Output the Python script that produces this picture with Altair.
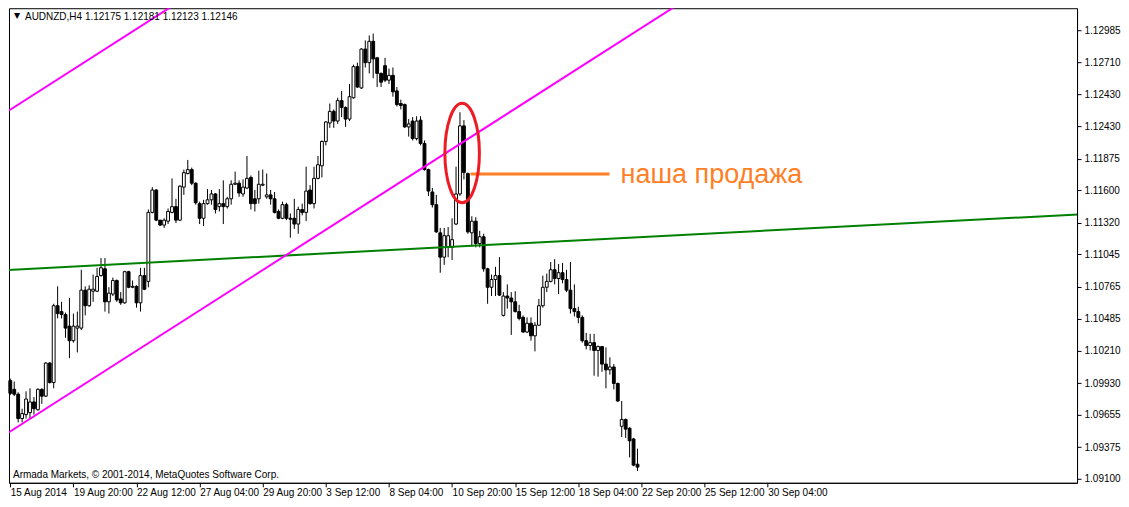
import json
import altair as alt
import pandas as pd

# ---------------- data (AUDNZD, H4) ----------------
opens = [1.09951, 1.09875, 1.09833, 1.09622, 1.09656, 1.09673, 1.09766, 1.09698, 1.09875, 1.09816,
         1.10103, 1.09934, 1.10600, 1.10549, 1.10524, 1.10423, 1.10297, 1.10406, 1.10406, 1.10735,
         1.10600, 1.10726, 1.10726, 1.10861, 1.10920, 1.10634, 1.10701, 1.10819, 1.10659, 1.10625,
         1.10895, 1.10760, 1.10768, 1.10625, 1.10861, 1.10811, 1.11409, 1.11603, 1.11342, 1.11299,
         1.11333, 1.11409, 1.11459, 1.11342, 1.11628, 1.11746, 1.11780, 1.11662, 1.11485, 1.11358,
         1.11485, 1.11518, 1.11569, 1.11459, 1.11485, 1.11459, 1.11527, 1.11653, 1.11662, 1.11569,
         1.11620, 1.11712, 1.11527, 1.11527, 1.11645, 1.11544, 1.11561, 1.11527, 1.11417, 1.11358,
         1.11476, 1.11358, 1.11358, 1.11308, 1.11434, 1.11409, 1.11603, 1.11485, 1.11704, 1.11813,
         1.12024, 1.12184, 1.12285, 1.12201, 1.12378, 1.12319, 1.12218, 1.12403, 1.12673, 1.12488,
         1.12825, 1.12707, 1.12892, 1.12749, 1.12614, 1.12681, 1.12555, 1.12597, 1.12462, 1.12353,
         1.12344, 1.12150, 1.12201, 1.12049, 1.12209, 1.12007, 1.11780, 1.11586, 1.11476, 1.11232,
         1.11021, 1.11106, 1.11106, 1.11308, 1.11569, 1.12159, 1.11746, 1.11232, 1.11333, 1.11139,
         1.11198, 1.10920, 1.10760, 1.10827, 1.10861, 1.10516, 1.10684, 1.10667, 1.10634, 1.10549,
         1.10499, 1.10372, 1.10448, 1.10339, 1.10431, 1.10600, 1.10760, 1.10811, 1.10912, 1.10836,
         1.10886, 1.10827, 1.10735, 1.10575, 1.10549, 1.10499, 1.10297, 1.10255, 1.10280, 1.10212,
         1.10246, 1.10094, 1.10044, 1.10069, 1.09926, 1.09555, 1.09614, 1.09538, 1.09445, 1.09226]
highs = [1.09968, 1.09943, 1.09850, 1.09707, 1.09858, 1.09884, 1.09808, 1.09884, 1.09884, 1.10111,
         1.10111, 1.10617, 1.10768, 1.10634, 1.10541, 1.10667, 1.10532, 1.10549, 1.10912, 1.10768,
         1.10777, 1.10870, 1.10929, 1.11013, 1.11013, 1.10760, 1.10844, 1.10827, 1.10718, 1.10903,
         1.10903, 1.10819, 1.10777, 1.10929, 1.10929, 1.11434, 1.11628, 1.11611, 1.11342, 1.11358,
         1.11443, 1.11704, 1.11527, 1.11645, 1.11780, 1.11864, 1.11797, 1.11670, 1.11502, 1.11518,
         1.11611, 1.11603, 1.11577, 1.11611, 1.11687, 1.11544, 1.11687, 1.11763, 1.11687, 1.11695,
         1.11898, 1.11729, 1.11603, 1.11771, 1.11780, 1.11746, 1.11603, 1.11586, 1.11434, 1.11502,
         1.11493, 1.11400, 1.11527, 1.11459, 1.11485, 1.11805, 1.11645, 1.11805, 1.11898, 1.12033,
         1.12201, 1.12353, 1.12302, 1.12403, 1.12462, 1.12327, 1.12521, 1.12690, 1.12707, 1.12833,
         1.12900, 1.12943, 1.12959, 1.12757, 1.12622, 1.12749, 1.12656, 1.12665, 1.12496, 1.12386,
         1.12353, 1.12218, 1.12235, 1.12243, 1.12243, 1.12033, 1.11788, 1.11620, 1.11561, 1.11274,
         1.11274, 1.11282, 1.11358, 1.11805, 1.12277, 1.12209, 1.11754, 1.11375, 1.11367, 1.11249,
         1.11224, 1.10929, 1.10870, 1.10937, 1.11021, 1.10718, 1.10785, 1.10718, 1.10726, 1.10608,
         1.10516, 1.10499, 1.10499, 1.10457, 1.10659, 1.10861, 1.10878, 1.10979, 1.11004, 1.10962,
         1.10971, 1.10912, 1.10979, 1.10785, 1.10591, 1.10516, 1.10364, 1.10356, 1.10356, 1.10255,
         1.10246, 1.10238, 1.10153, 1.10094, 1.09934, 1.09774, 1.09622, 1.09547, 1.09454, 1.09361]
lows = [1.09825, 1.09816, 1.09589, 1.09589, 1.09622, 1.09622, 1.09656, 1.09690, 1.09749, 1.09808,
        1.09926, 1.09884, 1.10490, 1.10490, 1.10322, 1.10145, 1.10280, 1.10195, 1.10389, 1.10516,
        1.10591, 1.10634, 1.10718, 1.10853, 1.10549, 1.10532, 1.10684, 1.10634, 1.10608, 1.10617,
        1.10752, 1.10752, 1.10583, 1.10549, 1.10735, 1.10760, 1.11400, 1.11333, 1.11291, 1.11274,
        1.11308, 1.11400, 1.11316, 1.11333, 1.11561, 1.11738, 1.11645, 1.11476, 1.11308, 1.11291,
        1.11476, 1.11476, 1.11400, 1.11417, 1.11308, 1.11443, 1.11476, 1.11645, 1.11544, 1.11544,
        1.11611, 1.11434, 1.11417, 1.11485, 1.11636, 1.11527, 1.11476, 1.11400, 1.11350, 1.11350,
        1.11342, 1.11190, 1.11266, 1.11224, 1.11384, 1.11333, 1.11476, 1.11443, 1.11695, 1.11712,
        1.11990, 1.12142, 1.12142, 1.12176, 1.12235, 1.12150, 1.12201, 1.12395, 1.12488, 1.12479,
        1.12665, 1.12614, 1.12572, 1.12496, 1.12496, 1.12538, 1.12521, 1.12412, 1.12327, 1.12302,
        1.12142, 1.12066, 1.12033, 1.12033, 1.11990, 1.11771, 1.11552, 1.11451, 1.11232, 1.10886,
        1.10954, 1.11021, 1.10996, 1.11299, 1.11552, 1.11695, 1.11224, 1.11114, 1.11106, 1.11106,
        1.10895, 1.10617, 1.10684, 1.10684, 1.10684, 1.10507, 1.10575, 1.10347, 1.10541, 1.10473,
        1.10364, 1.10364, 1.10297, 1.10204, 1.10431, 1.10583, 1.10718, 1.10802, 1.10785, 1.10701,
        1.10794, 1.10718, 1.10532, 1.10507, 1.10448, 1.10280, 1.10221, 1.10212, 1.09993, 1.09985,
        1.10027, 1.09884, 1.10002, 1.09875, 1.09766, 1.09462, 1.09454, 1.09285, 1.09209, 1.09167]
closes = [1.09841, 1.09833, 1.09622, 1.09665, 1.09791, 1.09766, 1.09707, 1.09875, 1.09816, 1.10103,
          1.09934, 1.10600, 1.10532, 1.10524, 1.10406, 1.10297, 1.10423, 1.10423, 1.10735, 1.10600,
          1.10743, 1.10743, 1.10853, 1.10929, 1.10634, 1.10709, 1.10819, 1.10650, 1.10625, 1.10895,
          1.10760, 1.10768, 1.10625, 1.10861, 1.10743, 1.11409, 1.11603, 1.11342, 1.11299, 1.11342,
          1.11417, 1.11459, 1.11342, 1.11636, 1.11754, 1.11780, 1.11662, 1.11493, 1.11358, 1.11485,
          1.11518, 1.11569, 1.11434, 1.11485, 1.11459, 1.11527, 1.11653, 1.11662, 1.11577, 1.11628,
          1.11704, 1.11485, 1.11485, 1.11653, 1.11653, 1.11561, 1.11527, 1.11409, 1.11358, 1.11476,
          1.11358, 1.11350, 1.11308, 1.11434, 1.11409, 1.11594, 1.11485, 1.11704, 1.11822, 1.12024,
          1.12193, 1.12285, 1.12201, 1.12378, 1.12319, 1.12218, 1.12412, 1.12673, 1.12496, 1.12825,
          1.12707, 1.12892, 1.12740, 1.12614, 1.12538, 1.12555, 1.12597, 1.12454, 1.12344, 1.12336,
          1.12150, 1.12176, 1.12049, 1.12201, 1.12007, 1.11780, 1.11594, 1.11476, 1.11240, 1.11021,
          1.11207, 1.11207, 1.11173, 1.11569, 1.12159, 1.11754, 1.11240, 1.11333, 1.11139, 1.11198,
          1.10920, 1.10760, 1.10827, 1.10861, 1.10692, 1.10684, 1.10667, 1.10634, 1.10549, 1.10490,
          1.10372, 1.10448, 1.10339, 1.10431, 1.10600, 1.10760, 1.10811, 1.10912, 1.10836, 1.10886,
          1.10827, 1.10735, 1.10575, 1.10549, 1.10499, 1.10297, 1.10255, 1.10280, 1.10212, 1.10246,
          1.10094, 1.10044, 1.10069, 1.09926, 1.09774, 1.09614, 1.09530, 1.09429, 1.09218, 1.09201]

# axis labels
time_labels = ["15 Aug 2014", "19 Aug 20:00", "22 Aug 12:00", "27 Aug 04:00", "29 Aug 20:00",
               "3 Sep 12:00", "8 Sep 04:00", "10 Sep 20:00", "15 Sep 12:00", "18 Sep 04:00",
               "22 Sep 20:00", "25 Sep 12:00", "30 Sep 04:00"]
time_label_bars = [0, 16, 32, 48, 64, 80, 96, 112, 128, 144, 160, 176, 192]
price_tick_values = [1.12985, 1.12710, 1.12430, 1.12155, 1.11875, 1.11600, 1.11320, 1.11045,
                     1.10765, 1.10485, 1.10210, 1.09930, 1.09655, 1.09375, 1.09100]
price_tick_labels = ["1.12985", "1.12710", "1.12430", "1.12430", "1.11875", "1.11600", "1.11320",
                     "1.11045", "1.10765", "1.10485", "1.10210", "1.09930", "1.09655", "1.09375",
                     "1.09100"]

# trend lines (anchor points: bar index, price)
channel_low_x = [-1, 175]
channel_low_y = [1.09488, 1.13336]
channel_up_x = [-1, 50]
channel_up_y = [1.12278, 1.13393]
green_x = [-1, 271]
green_y = [1.10910, 1.11392]
sell_x = [116.7, 151.9]
sell_y = [1.11741, 1.11741]
ellipse_x = [114.55]
ellipse_y = [1.11923]
note_x = [154.7]
note_y = [1.11737]
note_text = ["наша продажа"]
header_text = "AUDNZD,H4  1.12175 1.12181 1.12123 1.12146"
footer_text = "Armada Markets, © 2001-2014, MetaQuotes Software Corp."

FONT = "Liberation Sans, Arial, sans-serif"
FS = 10
ORANGE = "#FF7F27"
PLOT_W = 1069
PLOT_H = 475

# ---------------- chart ----------------
df = pd.DataFrame({"i": list(range(len(opens))), "open": opens, "high": highs,
                   "low": lows, "close": closes})

x_scale = alt.Scale(domain=[-0.325, 270.425], nice=False, zero=False)
y_scale = alt.Scale(domain=[1.09065, 1.13179], nice=False, zero=False)

x_label_expr = f"{json.dumps(time_labels)}[indexof({json.dumps(time_label_bars)}, datum.value)]"
y_label_expr = f"{json.dumps(price_tick_labels)}[indexof({json.dumps(price_tick_values)}, datum.value)]"

x_axis = alt.Axis(values=time_label_bars, labelExpr=x_label_expr, title=None, grid=False,
                  tickSize=4, tickColor="black", domainColor="black", labelColor="black",
                  labelAlign="left", labelBaseline="top", labelPadding=1, labelFont=FONT,
                  labelFontSize=FS, labelOverlap=False, labelFlush=False, orient="bottom")
y_axis = alt.Axis(values=price_tick_values, labelExpr=y_label_expr, title=None, grid=False,
                  tickSize=4, tickColor="black", domainColor="black", labelColor="black",
                  labelPadding=3, labelFont=FONT, labelFontSize=FS, labelOverlap=False,
                  labelFlush=False, labelBound=False, orient="right")


def X(field):
    return alt.X(field, scale=x_scale, axis=x_axis)


def Y(field):
    return alt.Y(field, scale=y_scale, axis=y_axis)


base = alt.Chart(df)

wicks = base.mark_rule(color="black", strokeWidth=1).encode(
    x=X("i:Q"), y=Y("low:Q"), y2="high:Q"
)

bodies = base.transform_calculate(
    xa="datum.i - 0.36",
    xb="datum.i + 0.36",
    top="max(datum.open, datum.close)",
    bot="min(datum.open, datum.close)",
    col="datum.close >= datum.open ? 'white' : 'black'",
).mark_rect(stroke="black", strokeWidth=1).encode(
    x=X("xa:Q"), x2="xb:Q", y=Y("bot:Q"), y2="top:Q",
    fill=alt.Fill("col:N", scale=None),
)


def line_layer(xs, ys, color, width):
    d = pd.DataFrame({"x": xs, "y": ys})
    return alt.Chart(d).mark_line(color=color, strokeWidth=width, clip=True).encode(
        x=X("x:Q"), y=Y("y:Q"))


lower_ch = line_layer(channel_low_x, channel_low_y, "#FF00FF", 2)
upper_ch = line_layer(channel_up_x, channel_up_y, "#FF00FF", 2)
green = line_layer(green_x, green_y, "#008000", 2)
sell = line_layer(sell_x, sell_y, ORANGE, 3)

ellipse_path = "M0,-1 A0.347,1 0 1,1 0,1 A0.347,1 0 1,1 0,-1 Z"
ellipse = alt.Chart(pd.DataFrame({"x": ellipse_x, "y": ellipse_y})).mark_point(
    shape=ellipse_path, size=9920, filled=False, stroke="#ED1C24", strokeWidth=3, opacity=1
).encode(x=X("x:Q"), y=Y("y:Q"))

note = alt.Chart(pd.DataFrame({"x": note_x, "y": note_y, "t": note_text})).mark_text(
    align="left", baseline="middle", font="Liberation Sans, Arial, sans-serif", fontSize=27,
    color=ORANGE
).encode(x=X("x:Q"), y=Y("y:Q"), text="t:N")

header = alt.Chart(pd.DataFrame({"t": [header_text]})).mark_text(
    align="left", baseline="middle", font=FONT, fontSize=FS, color="black"
).encode(x=alt.value(16), y=alt.value(9), text="t:N")

marker = alt.Chart(pd.DataFrame({"t": ["▼"]})).mark_text(
    align="center", baseline="middle", font="DejaVu Sans", fontSize=8, color="black"
).encode(x=alt.value(8), y=alt.value(8), text="t:N")

footer = alt.Chart(pd.DataFrame({"t": [footer_text]})).mark_text(
    align="left", baseline="middle", font=FONT, fontSize=FS, color="black"
).encode(x=alt.value(4), y=alt.value(467), text="t:N")

chart = alt.layer(
    wicks, bodies, green, lower_ch, upper_ch, sell, ellipse, note, header, marker, footer
).properties(
    width=PLOT_W, height=PLOT_H, padding={"left": 0, "top": 0, "right": 0, "bottom": 0},
    background="white"
).configure_view(stroke="black", strokeWidth=1).configure_axis(labelOverlap=False)

chart.save("out.html", embed_options={"renderer": "svg", "actions": False})
